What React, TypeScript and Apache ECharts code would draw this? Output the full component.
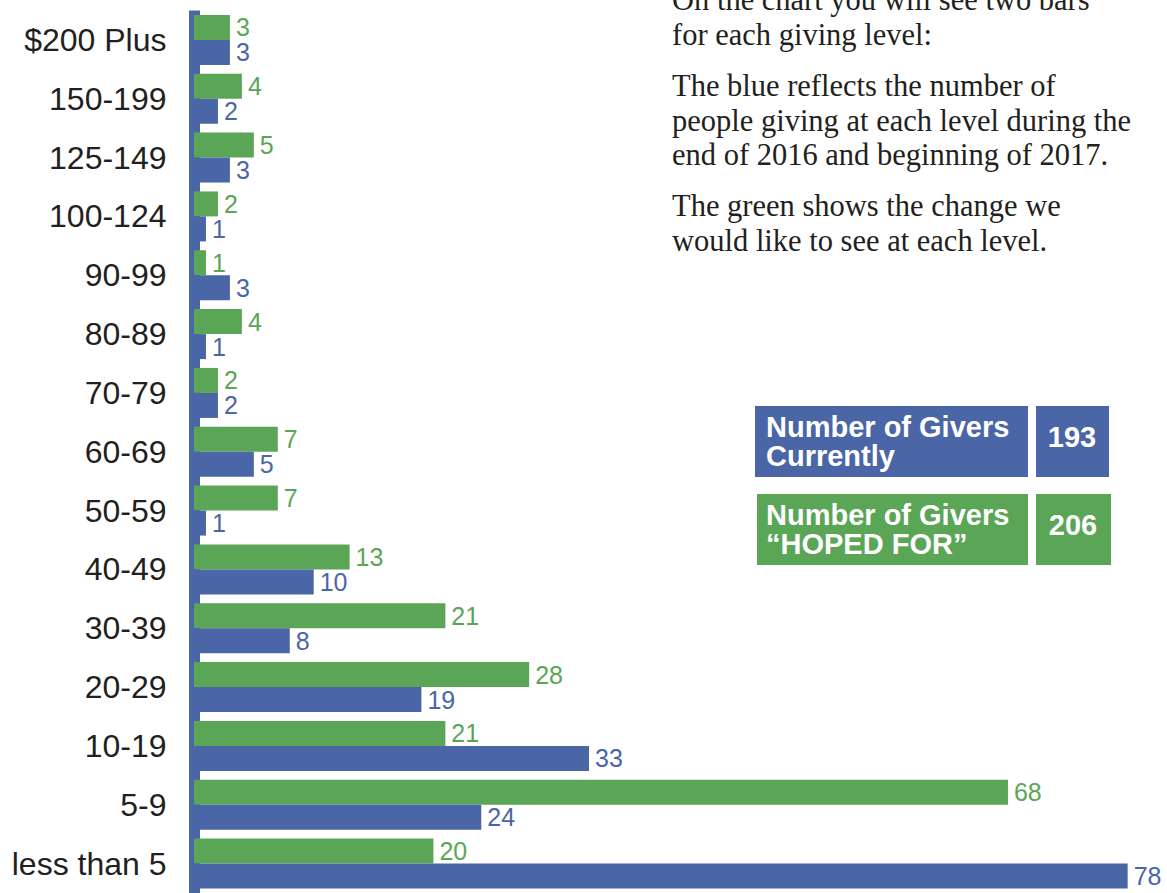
import React, { useEffect, useRef } from "react";
import * as echarts from "echarts";

const categories = [
  "$200 Plus", "150-199", "125-149", "100-124", "90-99", "80-89", "70-79",
  "60-69", "50-59", "40-49", "30-39", "20-29", "10-19", "5-9", "less than 5",
];
const hopedFor = [3, 4, 5, 2, 1, 4, 2, 7, 7, 13, 21, 28, 21, 68, 20];
const current = [3, 2, 3, 1, 3, 1, 2, 5, 1, 10, 8, 19, 33, 24, 78];

const introLines = [
  "On the chart you will see two bars",
  "for each giving level:",
];
const blueLines = [
  "The blue reflects the number of",
  "people giving at each level during the",
  "end of 2016 and beginning of 2017.",
];
const greenLines = [
  "The green shows the change we",
  "would like to see at each level.",
];

const BLUE = "#4a66a7";
const GREEN = "#5ba557";
const INK = "#231f20";
const SANS = "'Liberation Sans', Arial, Helvetica, sans-serif";
const SERIF = "'Liberation Serif', 'Times New Roman', serif";

export default function App() {
  const ref = useRef<HTMLDivElement>(null);
  useEffect(() => {
    if (!ref.current) return;
    const chart = echarts.init(ref.current, undefined, { renderer: "svg" });
    const totalCurrent = current.reduce((a, b) => a + b, 0);
    const totalHoped = hopedFor.reduce((a, b) => a + b, 0);

    const serifText = (text: string, y: number) => ({
      type: "text",
      left: 672,
      top: y,
      style: { text, font: `30.5px ${SERIF}`, fill: INK },
    });
    const textEls: any[] = [];
    const textTops = [[-16, 19], [70, 105, 139], [190, 225]];
    introLines.forEach((t, i) => textEls.push(serifText(t, textTops[0][i])));
    blueLines.forEach((t, i) => textEls.push(serifText(t, textTops[1][i])));
    greenLines.forEach((t, i) => textEls.push(serifText(t, textTops[2][i])));

    const box = (x: number, y: number, w: number, h: number, color: string) => ({
      type: "rect",
      shape: { x, y, width: w, height: h },
      style: { fill: color },
    });
    const boxText = (text: string, x: number, y: number, align: string) => ({
      type: "text",
      x,
      y,
      style: {
        text,
        font: `bold 29px ${SANS}`,
        fill: "#ffffff",
        align,
        verticalAlign: "middle",
        lineHeight: 29,
      },
    });

    const valueLabel = (color: string) => ({
      show: true,
      position: "right",
      distance: 6,
      fontSize: 25,
      lineHeight: 23,
      color,
      fontFamily: SANS,
    });

    chart.setOption({
      animation: false,
      grid: { left: 194, top: 10.5, width: 957.6, height: 885 },
      xAxis: { type: "value", min: 0, max: 80, show: false },
      yAxis: {
        type: "category",
        data: categories,
        inverse: true,
        offset: 5.5,
        axisLine: { show: true, lineStyle: { color: BLUE, width: 11, cap: "butt" } },
        axisTick: { show: false },
        axisLabel: { margin: 22, fontSize: 32, color: INK, fontFamily: SANS },
        splitLine: { show: false },
      },
      series: [
        {
          name: "Hoped For",
          type: "bar",
          data: hopedFor,
          barWidth: 25,
          barGap: "0%",
          itemStyle: { color: GREEN },
          label: valueLabel(GREEN),
        },
        {
          name: "Current",
          type: "bar",
          data: current,
          barWidth: 25,
          barGap: "0%",
          itemStyle: { color: BLUE },
          label: valueLabel(BLUE),
        },
      ],
      graphic: [
        ...textEls,
        box(755, 406, 273, 71, BLUE),
        box(1036, 406, 73, 71, BLUE),
        box(757, 494, 271, 71, GREEN),
        box(1036, 494, 75, 71, GREEN),
        boxText("Number of Givers\nCurrently", 766, 441, "left"),
        boxText(String(totalCurrent), 1072, 437, "center"),
        boxText("Number of Givers\n\u201cHOPED FOR\u201d", 766, 529, "left"),
        boxText(String(totalHoped), 1073, 525, "center"),
      ],
    });
    return () => chart.dispose();
  }, []);
  return (
    <div
      ref={ref}
      style={{ position: "fixed", left: 0, top: 0, width: 1167, height: 893, overflow: "hidden", background: "#fff" }}
    />
  );
}
